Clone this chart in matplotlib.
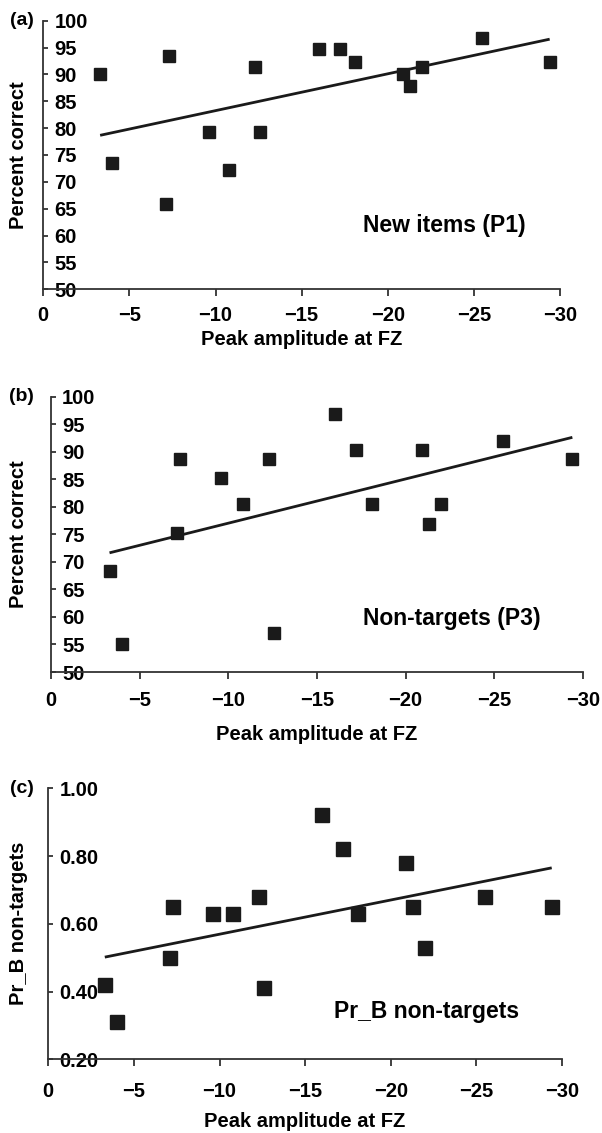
import matplotlib
matplotlib.use('Agg')
import matplotlib.pyplot as plt
import numpy as np

plt.rcParams['font.family'] = ['Liberation Sans', 'DejaVu Sans']
plt.rcParams['font.weight'] = 'bold'

# peak amplitude at FZ (same subjects in every panel)
peak_fz = [-3.3, -4.0, -7.1, -7.3, -9.6, -10.8, -12.3, -12.6,
           -16.0, -17.2, -18.1, -20.9, -21.3, -22.0, -25.5, -29.4]

new_items_p1 = [90.1, 73.6, 65.8, 93.4, 79.2, 72.3, 91.4, 79.2,
                94.7, 94.7, 92.4, 90.1, 87.8, 91.4, 96.7, 92.4]
non_targets_p3 = [68.4, 55.1, 75.2, 88.7, 85.2, 80.4, 88.7, 57.0,
                  96.9, 90.2, 80.4, 90.2, 76.9, 80.4, 91.9, 88.7]
pr_b_non_targets = [0.42, 0.31, 0.50, 0.65, 0.63, 0.63, 0.68, 0.41,
                    0.92, 0.82, 0.63, 0.78, 0.65, 0.53, 0.68, 0.65]

x_ticks = [0, -5, -10, -15, -20, -25, -30]
pct_ticks = [50, 55, 60, 65, 70, 75, 80, 85, 90, 95, 100]
prb_ticks = [0.20, 0.40, 0.60, 0.80, 1.00]

W, H = 602, 1133
fig = plt.figure(figsize=(W / 100, H / 100), dpi=100)

ink = '#1a1a1a'
spine_c = '#333333'
xlab_off = {'a': 50, 'b': 63, 'c': 62}


def panel(box, y, yticks, ylim, yfmt, ylabel, note, note_xy, letter,
          msize, xpad):
    # box in pixels: left, right, top, bottom
    l, r, t, b = box
    ax = fig.add_axes([l / W, 1 - b / H, (r - l) / W, (b - t) / H])
    ax.plot(peak_fz, y, 's', color=ink, ms=msize, mec=ink, clip_on=False)
    k, c = np.polyfit(peak_fz, y, 1)
    xs = np.array([max(peak_fz), min(peak_fz)])
    ax.plot(xs, k * xs + c, color=ink, lw=2.0, solid_capstyle='butt')

    ax.set_xlim(0, -30)
    ax.set_ylim(*ylim)
    ax.set_xticks(x_ticks)
    ax.set_yticks(yticks)
    ax.set_yticklabels([yfmt % v for v in yticks])
    for s in ['top', 'right']:
        ax.spines[s].set_visible(False)
    for s in ['left', 'bottom']:
        ax.spines[s].set_color(spine_c)
        ax.spines[s].set_linewidth(1.3)
    ax.tick_params(axis='x', direction='out', length=5, width=1.3,
                   color=spine_c, pad=xpad, labelsize=14.5)
    ax.tick_params(axis='y', direction='in', length=3.5, width=1.3,
                   color=spine_c, pad=-7.9, labelsize=14.5)
    for lab in ax.get_yticklabels():
        lab.set_horizontalalignment('left')
    for lab in ax.get_xticklabels() + ax.get_yticklabels():
        lab.set_fontweight('bold')

    ax.text(note_xy[0], note_xy[1], note, transform=ax.transAxes,
            ha='center', va='center', fontsize=16.5, fontweight='bold')

    cx = (l + r) / 2
    fig.text(cx / W, 1 - (b + xlab_off[letter]) / H, 'Peak amplitude at FZ',
             ha='center', va='center', fontsize=14.5, fontweight='bold')
    fig.text(19 / W, 1 - (t + b) / 2 / H, ylabel, rotation=90,
             ha='center', va='center', fontsize=14.5, fontweight='bold')
    fig.text(21.7 / W, 1 - t / H, '(%s)' % letter,
             ha='center', va='center', fontsize=14, fontweight='bold')
    return ax


panel((43.3, 560, 20.7, 289.3), new_items_p1, pct_ticks, (50, 100), '%d',
      'Percent correct', 'New items (P1)', (0.7755, 0.239), 'a', 8.3, 7)
panel((51, 583, 396.5, 672), non_targets_p3, pct_ticks, (50, 100), '%d',
      'Percent correct', 'Non-targets (P3)', (0.754, 0.195), 'b', 8.3, 9)
panel((48.3, 562, 788.3, 1059.3), pr_b_non_targets, prb_ticks, (0.2, 1.0),
      '%.2f', 'Pr_B non-targets', 'Pr_B non-targets', (0.736, 0.176), 'c',
      10.5, 11)

fig.savefig('out.png', dpi=100)
